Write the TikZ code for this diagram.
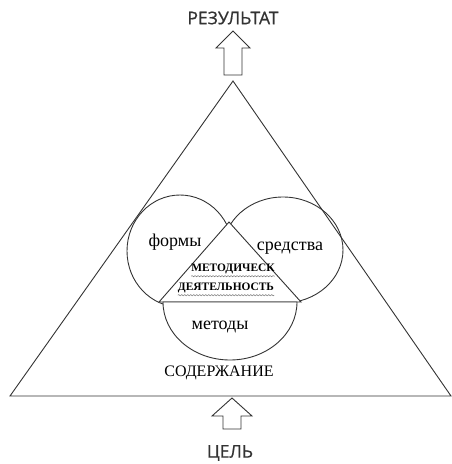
\documentclass[tikz,border=0pt]{standalone}
\usepackage{fontspec}
\setmainfont{Liberation Serif}
\newfontfamily\titlefont[FakeBold=0.8]{Open Sans}
\usetikzlibrary{decorations.pathmorphing}
\def\blockup[#1](#2,#3)(#4:#5:#6:#7){\draw[#1] (#2,#3) -- ({#2+#4},{#3+#5}) -- ({#2+#6},{#3+#5}) -- ({#2+#6},#7) -- ({#2-#6},#7) -- ({#2-#6},{#3+#5}) -- ({#2-#4},{#3+#5}) -- cycle;}
\tikzset{
  edgeline/.style={line width=0.9pt, color=black!80},
  lbl/.style={font=\fontsize{18}{20}\selectfont, inner sep=0pt},
  capslbl/.style={font=\fontsize{16}{18}\selectfont, inner sep=0pt},
  core/.style={font=\fontsize{11.4}{13}\selectfont\bfseries, inner sep=0pt},
  headline/.style={font=\titlefont\fontsize{17.5}{19}\selectfont, inner sep=0pt, text=black!80},
  squiggle/.style={decorate, decoration={snake, amplitude=0.6pt, segment length=3pt}, line width=0.5pt, color=black!55}
}
\begin{document}
\begin{tikzpicture}[x=1pt,y=-1pt]
	\useasboundingbox (0,0) rectangle (452,464);
	%%%%% START %%%%%
	
	\draw[edgeline] (233,81) -- (451,396) -- (10,396) -- cycle;
	
	\draw[edgeline] (180,251) ellipse [x radius=53pt, y radius=56pt];
	\draw[edgeline] (283,250) ellipse [x radius=60pt, y radius=53pt];
	
	\draw[edgeline, fill=white] (229,222) -- (301,302) -- (159,302) -- cycle;
	\draw[edgeline, fill=white] (163,302) arc [start angle=180, end angle=360, x radius=67pt, y radius=58pt] -- cycle;
	
	\blockup[edgeline, fill=white](233,31)(17:17:9:75)
	\blockup[edgeline, fill=white](232,398)(20:18:9:429)
	
	\node[headline] (result) at (233,18) {РЕЗУЛЬТАТ};
	\node[headline] (goal) at (230,453) {ЦЕЛЬ};
	
	\node[lbl] (forms) at (175,242) {формы};
	\node[lbl] (means) at (290,248) {средства};
	\node[lbl] (methods) at (220,327) {методы};
	\node[capslbl] (content) at (219,373) {СОДЕРЖАНИЕ};
	
	\node[core] (core1) at (233,269) {МЕТОДИЧЕСК};
	\node[core] (core2) at (226,288) {ДЕЯТЕЛЬНОСТЬ};
	\draw[squiggle] ([yshift=-2pt]core1.south west) -- ([yshift=-2pt]core1.south east);
	\draw[squiggle] ([yshift=-2pt]core2.south west) -- ([yshift=-2pt]core2.south east);
	
	%%%%% END %%%%%
\end{tikzpicture}
\end{document}
